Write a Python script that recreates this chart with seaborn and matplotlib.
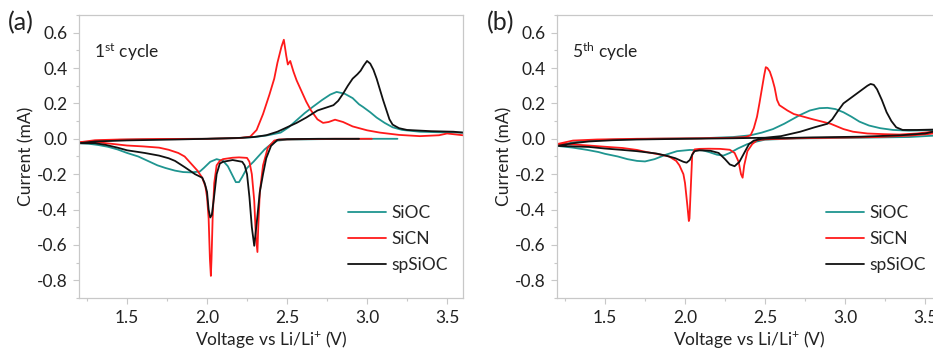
import matplotlib
matplotlib.use("Agg")
import matplotlib.pyplot as plt
import seaborn as sns
from matplotlib.ticker import MultipleLocator

# ---- 1st cycle (panel a), path: OCV -> 1.2 V -> 3.6 V ----
sioc1_v = [3.19, 3.0, 2.7, 2.5, 2.44, 2.40, 2.36, 2.33, 2.29, 2.25, 2.22, 2.20, 2.18, 2.155, 2.13, 2.10, 2.06,
           2.02, 1.98, 1.955, 1.90, 1.85, 1.80, 1.74, 1.69, 1.63, 1.57, 1.50, 1.44, 1.38, 1.32, 1.26, 1.2,
           1.3, 1.45, 1.6, 1.8, 2.0, 2.2, 2.3, 2.38, 2.46, 2.51, 2.56, 2.61, 2.66, 2.72, 2.77, 2.81, 2.86,
           2.91, 2.95, 2.975, 3.02, 3.06, 3.11, 3.16, 3.22, 3.33, 3.45, 3.6]
sioc1_i = [0.0, 0.0, -0.002, -0.005, -0.01, -0.03, -0.06, -0.09, -0.13, -0.165, -0.215, -0.245, -0.245, -0.2,
           -0.155, -0.125, -0.115, -0.13, -0.165, -0.185, -0.19, -0.188, -0.18, -0.165, -0.15, -0.125, -0.1,
           -0.08, -0.06, -0.045, -0.035, -0.028, -0.025,
           -0.012, -0.006, -0.003, -0.001, 0.0, 0.004, 0.01, 0.02, 0.035, 0.065, 0.105, 0.145, 0.18, 0.22,
           0.25, 0.265, 0.255, 0.23, 0.195, 0.18, 0.15, 0.12, 0.09, 0.065, 0.05, 0.04, 0.037, 0.035]

sicn1_v = [3.03, 2.8, 2.6, 2.45, 2.42, 2.38, 2.35, 2.33, 2.32, 2.315, 2.305, 2.295, 2.28, 2.265, 2.25, 2.2,
           2.16, 2.1, 2.08, 2.06, 2.045, 2.035, 2.028, 2.024, 2.018, 2.01, 2.0, 1.99, 1.97, 1.94, 1.90, 1.86,
           1.82, 1.76, 1.7, 1.6, 1.5, 1.4, 1.3, 1.2,
           1.3, 1.45, 1.7, 2.0, 2.2, 2.27, 2.31, 2.35, 2.39, 2.42, 2.44, 2.465, 2.48, 2.495, 2.505, 2.52,
           2.54, 2.56, 2.59, 2.62, 2.65, 2.69, 2.725, 2.76, 2.8, 2.85, 2.91, 3.0, 3.08, 3.2, 3.33, 3.45,
           3.5, 3.55, 3.6]
sicn1_i = [0.0, 0.0, -0.002, -0.004, -0.01, -0.05, -0.15, -0.3, -0.5, -0.64, -0.55, -0.35, -0.2, -0.13,
           -0.108, -0.105, -0.107, -0.115, -0.125, -0.15, -0.25, -0.45, -0.68, -0.775, -0.68, -0.45, -0.33,
           -0.27, -0.22, -0.18, -0.14, -0.1, -0.08, -0.062, -0.05, -0.043, -0.038, -0.028, -0.018, -0.02,
           -0.008, -0.004, -0.001, 0.0, 0.004, 0.012, 0.05, 0.14, 0.25, 0.34, 0.43, 0.52, 0.56, 0.47, 0.42,
           0.44, 0.38, 0.33, 0.27, 0.21, 0.16, 0.11, 0.09, 0.095, 0.108, 0.095, 0.07, 0.048, 0.035, 0.022,
           0.015, 0.02, 0.03, 0.025, 0.02]

spsioc1_v = [2.95, 2.7, 2.5, 2.44, 2.40, 2.37, 2.35, 2.33, 2.31, 2.295, 2.28, 2.265, 2.25, 2.235, 2.22,
             2.16, 2.1, 2.08, 2.06, 2.045, 2.03, 2.02, 2.01, 2.0, 1.985, 1.97, 1.925, 1.86, 1.8, 1.76, 1.7,
             1.61, 1.5, 1.44, 1.37, 1.3, 1.2,
             1.3, 1.5, 1.8, 2.0, 2.2, 2.29, 2.37, 2.44, 2.5, 2.56, 2.62, 2.69, 2.74, 2.79, 2.82, 2.85, 2.88,
             2.91, 2.94, 2.96, 2.98, 3.0, 3.02, 3.04, 3.06, 3.08, 3.1, 3.12, 3.14, 3.16, 3.2, 3.25, 3.4,
             3.54, 3.6]
spsioc1_i = [0.0, 0.0, -0.002, -0.006, -0.04, -0.11, -0.2, -0.3, -0.48, -0.605, -0.5, -0.33, -0.2, -0.15,
             -0.13, -0.12, -0.13, -0.14, -0.2, -0.32, -0.43, -0.445, -0.4, -0.3, -0.25, -0.22, -0.2, -0.16,
             -0.125, -0.11, -0.095, -0.08, -0.065, -0.05, -0.035, -0.025, -0.025,
             -0.015, -0.009, -0.004, 0.0, 0.005, 0.01, 0.02, 0.04, 0.065, 0.09, 0.12, 0.16, 0.175, 0.19,
             0.215, 0.255, 0.3, 0.34, 0.365, 0.385, 0.415, 0.44, 0.425, 0.39, 0.34, 0.28, 0.22, 0.165, 0.11,
             0.08, 0.06, 0.05, 0.043, 0.04, 0.035]

# ---- 5th cycle (panel b), path: 3.6 V -> 1.2 V -> 3.6 V ----
sioc5_v = [3.6, 3.4, 3.0, 2.7, 2.5, 2.45, 2.39, 2.33, 2.28, 2.24, 2.2, 2.15, 2.11, 2.03, 1.95, 1.88, 1.81,
           1.75, 1.7, 1.64, 1.58, 1.5, 1.46, 1.39, 1.3, 1.2,
           1.3, 1.4, 1.6, 1.8, 2.1, 2.3, 2.41, 2.48, 2.55, 2.62, 2.68, 2.72, 2.78, 2.84, 2.89, 2.94, 2.99,
           3.04, 3.09, 3.15, 3.22, 3.3, 3.4, 3.5, 3.6]
sioc5_i = [0.02, 0.01, 0.005, 0.002, -0.005, -0.015, -0.03, -0.055, -0.08, -0.095, -0.09, -0.075, -0.065,
           -0.063, -0.07, -0.09, -0.115, -0.128, -0.125, -0.115, -0.1, -0.085, -0.075, -0.063, -0.05, -0.04,
           -0.02, -0.01, -0.003, 0.0, 0.003, 0.01, 0.02, 0.035, 0.055, 0.085, 0.115, 0.135, 0.16, 0.173,
           0.175, 0.168, 0.15, 0.125, 0.097, 0.075, 0.06, 0.05, 0.046, 0.048, 0.05]

sicn5_v = [3.6, 3.5, 3.4, 3.2, 3.0, 2.7, 2.5, 2.45, 2.42, 2.39, 2.37, 2.36, 2.35, 2.335, 2.31, 2.28, 2.22,
           2.15, 2.09, 2.06, 2.045, 2.035, 2.028, 2.024, 2.015, 2.0, 1.99, 1.965, 1.945, 1.9, 1.85, 1.76,
           1.7, 1.61, 1.5, 1.4, 1.3, 1.2,
           1.3, 1.45, 1.7, 2.1, 2.3, 2.38, 2.41, 2.43, 2.45, 2.465, 2.48, 2.495, 2.505, 2.515, 2.53, 2.545,
           2.56, 2.575, 2.59, 2.615, 2.64, 2.68, 2.72, 2.8, 2.91, 2.99, 3.05, 3.14, 3.25, 3.34, 3.45, 3.55, 3.6]
sicn5_i = [0.035, 0.025, 0.018, 0.01, 0.007, 0.003, -0.003, -0.008, -0.03, -0.07, -0.15, -0.22, -0.2, -0.13,
           -0.08, -0.062, -0.057, -0.056, -0.057, -0.06, -0.09, -0.3, -0.45, -0.465, -0.38, -0.25, -0.2,
           -0.15, -0.125, -0.1, -0.09, -0.075, -0.063, -0.052, -0.045, -0.038, -0.032, -0.03,
           -0.01, -0.004, 0.0, 0.003, 0.006, 0.01, 0.02, 0.06, 0.125, 0.2, 0.28, 0.36, 0.405, 0.4, 0.38,
           0.34, 0.29, 0.22, 0.19, 0.175, 0.16, 0.14, 0.13, 0.11, 0.085, 0.055, 0.04, 0.03, 0.026, 0.024,
           0.03, 0.04, 0.045]

spsioc5_v = [3.6, 3.5, 3.35, 3.1, 2.8, 2.6, 2.48, 2.43, 2.4, 2.37, 2.34, 2.31, 2.28, 2.25, 2.21, 2.16, 2.09,
             2.06, 2.045, 2.03, 2.01, 1.99, 1.94, 1.88, 1.82, 1.7, 1.61, 1.5, 1.4, 1.3, 1.2,
             1.3, 1.4, 1.55, 1.7, 2.0, 2.3, 2.5, 2.6, 2.72, 2.81, 2.89, 2.92, 2.95, 2.99, 3.02, 3.05, 3.08,
             3.11, 3.14, 3.16, 3.18, 3.2, 3.23, 3.26, 3.29, 3.32, 3.36, 3.45, 3.55, 3.6]
spsioc5_i = [0.05, 0.03, 0.02, 0.012, 0.008, 0.004, 0.0, -0.01, -0.03, -0.08, -0.13, -0.155, -0.145, -0.115,
             -0.08, -0.068, -0.065, -0.07, -0.09, -0.12, -0.135, -0.13, -0.11, -0.095, -0.083, -0.07, -0.063,
             -0.055, -0.046, -0.043, -0.04,
             -0.025, -0.015, -0.008, -0.004, 0.0, 0.003, 0.006, 0.015, 0.04, 0.065, 0.085, 0.11, 0.15, 0.2,
             0.22, 0.24, 0.26, 0.28, 0.3, 0.31, 0.305, 0.28, 0.22, 0.15, 0.1, 0.065, 0.05, 0.05, 0.052, 0.055]

names = ["SiOC", "SiCN", "spSiOC"]
colors = ["#1f9590", "#ff1a1a", "#111111"]
panels = [
    ("(a)", "1$^{\\mathrm{st}}$ cycle", [(sioc1_v, sioc1_i), (sicn1_v, sicn1_i), (spsioc1_v, spsioc1_i)]),
    ("(b)", "5$^{\\mathrm{th}}$ cycle", [(sioc5_v, sioc5_i), (sicn5_v, sicn5_i), (spsioc5_v, spsioc5_i)]),
]

sns.set_style("ticks")
plt.rcParams["font.family"] = ["Lato", "DejaVu Sans"]
plt.rcParams["mathtext.fontset"] = "custom"
plt.rcParams["mathtext.rm"] = "Lato"
plt.rcParams["mathtext.it"] = "Lato:italic"

fig = plt.figure(figsize=(9.33, 3.5), dpi=100)
# panel b runs past the right edge of the figure, as in the source
axes = [fig.add_axes([0.0847, 0.1486, 0.4116, 0.8086]),
        fig.add_axes([0.597, 0.1486, 0.4116, 0.8086])]
gray = "#c8c8c8"
txt = "#222222"

for ax, (tag, cycle, curves) in zip(axes, panels):
    for (v, i), name, c in zip(curves, names, colors):
        sns.lineplot(x=v, y=i, sort=False, estimator=None, ax=ax, color=c, linewidth=1.3, label=name)

    ax.set_xlim(1.2, 3.6)
    ax.set_ylim(-0.9, 0.7)
    ax.xaxis.set_minor_locator(MultipleLocator(0.25))
    ax.yaxis.set_minor_locator(MultipleLocator(0.1))
    ax.set_xticks([1.5, 2.0, 2.5, 3.0, 3.5])
    ax.set_yticks([-0.8, -0.6, -0.4, -0.2, 0.0, 0.2, 0.4, 0.6])
    ax.set_xticklabels(["1.5", "2.0", "2.5", "3.0", "3.5"])
    ax.set_yticklabels(["-0.8", "-0.6", "-0.4", "-0.2", "0.0", "0.2", "0.4", "0.6"])
    ax.tick_params(which="major", length=4, width=0.8, color=gray, labelsize=12.5, labelcolor=txt)
    ax.tick_params(which="minor", length=2.5, width=0.8, color=gray)
    ax.tick_params(axis="x", pad=5)
    ax.tick_params(axis="y", pad=4)
    for s in ax.spines.values():
        s.set_color(gray)
        s.set_linewidth(0.9)

    ax.set_xlabel("Voltage vs Li/Li$^{+}$ (V)", fontsize=12.5, color=txt, labelpad=2)
    ax.set_ylabel("Current (mA)", fontsize=12.5, color=txt, labelpad=2)
    ax.text(0.038, 0.87, cycle, transform=ax.transAxes, fontsize=12.5, color=txt, va="center")

    ax.legend(loc="upper left", bbox_to_anchor=(0.70, 0.33), frameon=False, fontsize=12.5,
              handlelength=2.2, handletextpad=0.3, labelspacing=0.6, borderpad=0, borderaxespad=0)

fig.text(0.008, 0.934, "(a)", fontsize=18, color=txt, va="center")
fig.text(0.522, 0.934, "(b)", fontsize=18, color=txt, va="center")

fig.savefig("out.png", dpi=100)
